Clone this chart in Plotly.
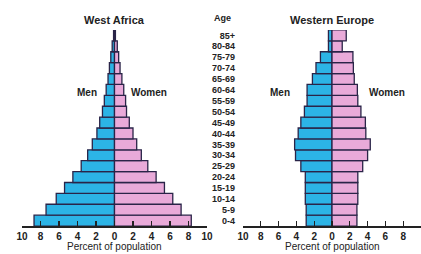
import plotly.graph_objects as go

ages = ["0-4", "5-9", "10-14", "15-19", "20-24", "25-29", "30-34", "35-39", "40-44",
        "45-49", "50-54", "55-59", "60-64", "65-69", "70-74", "75-79", "80-84", "85+"]

wa_men = [8.7, 7.4, 6.3, 5.4, 4.5, 3.6, 2.9, 2.4, 1.9, 1.6, 1.3, 1.1, 0.9, 0.7, 0.55, 0.4, 0.25, 0.1]
wa_women = [8.3, 7.2, 6.3, 5.4, 4.5, 3.6, 2.9, 2.4, 2.0, 1.6, 1.3, 1.2, 1.0, 0.8, 0.6, 0.45, 0.3, 0.1]

we_men = [2.9, 2.9, 3.0, 3.0, 3.0, 3.5, 4.1, 4.2, 3.8, 3.5, 3.1, 2.8, 2.8, 2.2, 1.8, 1.3, 0.4, 0.4]
we_women = [2.8, 2.8, 2.9, 2.9, 2.9, 3.45, 4.0, 4.3, 3.8, 3.75, 3.25, 2.9, 2.85, 2.5, 2.4, 2.35, 1.15, 1.6]

tick_vals = [-10, -8, -6, -4, -2, 0, 2, 4, 6, 8, 10]
tick_text = ["10", "8", "6", "4", "2", "0", "2", "4", "6", "8", "10"]

MEN_C = "#2cb4e6"
WOMEN_C = "#e9aad9"
EDGE = "#2a2448"
FONT = "Liberation Sans Narrow, Arial Narrow, Liberation Sans, sans-serif"
TXT = "#222222"

fig = go.Figure()

def add_pyr(men, women, xa, ya):
    fig.add_trace(go.Bar(y=ages, x=[-v for v in men], orientation="h", base=0,
                         marker=dict(color=MEN_C, line=dict(color=EDGE, width=1.3)),
                         width=1, xaxis=xa, yaxis=ya, showlegend=False, hoverinfo="skip"))
    fig.add_trace(go.Bar(y=ages, x=women, orientation="h", base=0,
                         marker=dict(color=WOMEN_C, line=dict(color=EDGE, width=1.3)),
                         width=1, xaxis=xa, yaxis=ya, showlegend=False, hoverinfo="skip"))

add_pyr(wa_men, wa_women, "x", "y")
add_pyr(we_men, we_women, "x2", "y2")

xcommon = dict(range=[-10, 10], tickmode="array", tickvals=tick_vals,
               ticktext=["<b>%s</b>" % t for t in tick_text],
               showline=True, linecolor=TXT, linewidth=1.5, ticks="inside",
               ticklen=5, tickwidth=1.3, tickcolor=TXT, showgrid=False, zeroline=False,
               tickfont=dict(family=FONT, size=10, color=TXT),
               automargin=False, fixedrange=True)

ydom = [0.11, 0.882]

fig.update_layout(
    width=421, height=254,
    margin=dict(l=0, r=0, t=0, b=0),
    paper_bgcolor="white", plot_bgcolor="white",
    barmode="overlay", bargap=0,
    xaxis=dict(domain=[22/421, 207/421], anchor="y", **xcommon),
    xaxis2=dict(domain=[243/421, 1.0], anchor="y2", **xcommon),
    yaxis=dict(domain=ydom, anchor="x", range=[-0.5, 17.5], showticklabels=False,
               showgrid=False, zeroline=False, showline=False, ticks="", fixedrange=True),
    yaxis2=dict(domain=ydom, anchor="x2", range=[-0.5, 17.5], showticklabels=True,
                tickmode="array", tickvals=ages, ticktext=["<b>%s</b>" % a for a in ages],
                showgrid=False, zeroline=False, showline=False, ticks="",
                ticklabelstandoff=7, automargin=False, fixedrange=True,
                tickfont=dict(family=FONT, size=9, color=TXT)),
    font=dict(family=FONT, color=TXT),
)

ann = [
    dict(text="<b>West Africa</b>", x=0, y=17.5, xref="x", yref="y", yshift=10, size=11),
    dict(text="<b>Western Europe</b>", x=0, y=17.5, xref="x2", yref="y2", yshift=10, size=11),
    dict(text="<b>Men</b>", x=-3.0, y=11.8, xref="x", yref="y", yshift=0, size=10),
    dict(text="<b>Women</b>", x=3.7, y=11.8, xref="x", yref="y", yshift=0, size=10),
    dict(text="<b>Men</b>", x=-5.8, y=11.8, xref="x2", yref="y2", yshift=0, size=10),
    dict(text="<b>Women</b>", x=6.2, y=11.8, xref="x2", yref="y2", yshift=0, size=10),
]
for a in ann:
    fig.add_annotation(text=a["text"], x=a["x"], y=a["y"], xref=a["xref"], yref=a["yref"],
                       yshift=a["yshift"], showarrow=False,
                       font=dict(family=FONT, size=a["size"], color=TXT))

for xr in ["x", "x2"]:
    fig.add_annotation(text="Percent of population", x=0, y=0, xref=xr, yref="paper",
                       yanchor="bottom", yshift=0, showarrow=False,
                       font=dict(family=FONT, size=10, color=TXT))

fig.add_annotation(text="<b>Age</b>", x=222/421, y=17.5, xref="paper", yref="y2", yshift=12,
                   showarrow=False, font=dict(family=FONT, size=9, color=TXT))

fig.write_html("out.html", config={"displayModeBar": False, "staticPlot": True},
               post_script="document.body.style.margin='0px';document.body.style.overflow='hidden';")
